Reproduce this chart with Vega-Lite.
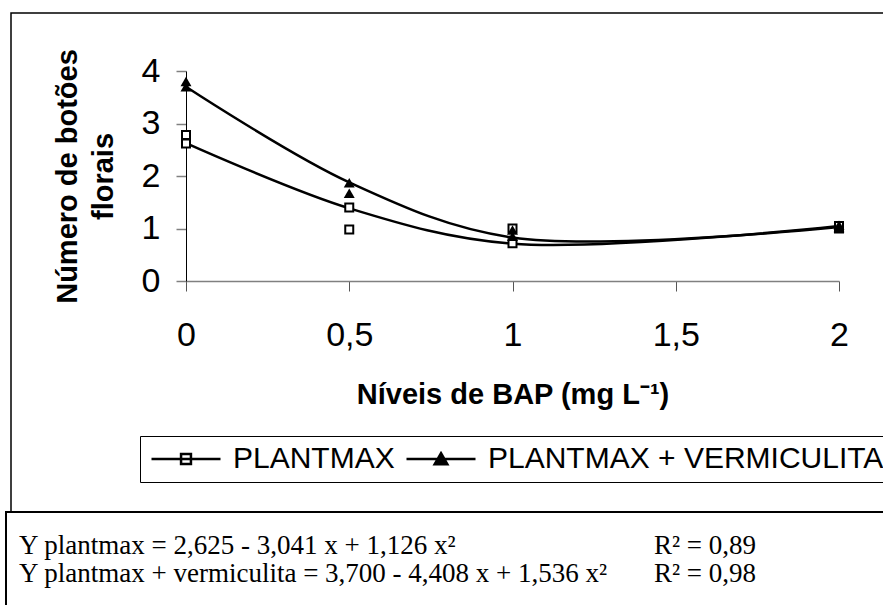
{
  "$schema": "https://vega.github.io/schema/vega-lite/v6.json",
  "padding": {"left": 5, "top": 12, "right": 0, "bottom": 0},
  "spacing": 0,
  "center": true,
  "bounds": "flush",
  "background": "white",
  "config": {
    "font": "Liberation Sans",
    "axis": {"labelFont": "Liberation Sans", "titleFont": "Liberation Sans", "grid": false},
    "legend": {"labelFont": "Liberation Sans"}
  },
  "datasets": {
    "fit": [
      {"series": "PLANTMAX", "x": 0, "y": 2.625},
      {"series": "PLANTMAX", "x": 0.5, "y": 1.385},
      {"series": "PLANTMAX", "x": 1, "y": 0.71},
      {"series": "PLANTMAX", "x": 2, "y": 1.047},
      {"series": "PLANTMAX + VERMICULITA", "x": 0, "y": 3.7},
      {"series": "PLANTMAX + VERMICULITA", "x": 0.5, "y": 1.88},
      {"series": "PLANTMAX + VERMICULITA", "x": 1, "y": 0.828},
      {"series": "PLANTMAX + VERMICULITA", "x": 2, "y": 1.028}
    ],
    "obs": [
      {"series": "PLANTMAX", "x": 0, "y": 2.78},
      {"series": "PLANTMAX", "x": 0, "y": 2.62},
      {"series": "PLANTMAX", "x": 0.5, "y": 1.4},
      {"series": "PLANTMAX", "x": 0.5, "y": 0.98},
      {"series": "PLANTMAX", "x": 1, "y": 1.0},
      {"series": "PLANTMAX", "x": 1, "y": 0.72},
      {"series": "PLANTMAX", "x": 2, "y": 1.0},
      {"series": "PLANTMAX", "x": 2, "y": 1.05},
      {"series": "PLANTMAX + VERMICULITA", "x": 0, "y": 3.8},
      {"series": "PLANTMAX + VERMICULITA", "x": 0, "y": 3.7},
      {"series": "PLANTMAX + VERMICULITA", "x": 0.5, "y": 1.87},
      {"series": "PLANTMAX + VERMICULITA", "x": 0.5, "y": 1.67},
      {"series": "PLANTMAX + VERMICULITA", "x": 1, "y": 0.85},
      {"series": "PLANTMAX + VERMICULITA", "x": 1, "y": 0.97},
      {"series": "PLANTMAX + VERMICULITA", "x": 2, "y": 1.02},
      {"series": "PLANTMAX + VERMICULITA", "x": 2, "y": 1.06}
    ],
    "eqs": [
      {"line": 1, "col": "eq", "label": "Y plantmax = 2,625 - 3,041 x + 1,126 x²"},
      {"line": 1, "col": "r2", "label": "R² = 0,89"},
      {"line": 2, "col": "eq", "label": "Y plantmax + vermiculita = 3,700 - 4,408 x + 1,536 x²"},
      {"line": 2, "col": "r2", "label": "R² = 0,98"}
    ]
  },
  "vconcat": [
    {
      "width": 880,
      "height": 499,
      "view": {"stroke": "black", "strokeWidth": 1.5},
      "encoding": {
        "x": {
          "field": "x", "type": "quantitative",
          "scale": {"domain": [0, 2], "range": [175, 828], "nice": false, "zero": false},
          "axis": {
            "values": [0, 0.5, 1, 1.5, 2],
            "labelExpr": "replace(toString(datum.value), '.', ',')",
            "offset": -231,
            "domainColor": "#808080", "domainWidth": 1.5,
            "tickColor": "#555555", "tickSize": 10, "tickWidth": 1,
            "labelFontSize": 34, "labelColor": "black", "labelPadding": 27,
            "labelFlush": false, "labelOverlap": false,
            "title": "Níveis de BAP (mg L⁻¹)",
            "titleFontSize": 29, "titleFontWeight": "bold", "titleColor": "black",
            "titleY": 122, "titleBaseline": "alphabetic"
          }
        },
        "y": {
          "field": "y", "type": "quantitative",
          "scale": {"domain": [0, 4], "range": [268, 58], "nice": false},
          "axis": {
            "values": [0, 1, 2, 3, 4],
            "offset": -175,
            "domainColor": "black", "domainWidth": 1,
            "tickColor": "#808080", "tickSize": 10, "tickWidth": 1.5,
            "labelFontSize": 34, "labelColor": "black", "labelPadding": 16,
            "title": ["Número de botões", "florais"],
            "titleFontSize": 29, "titleFontWeight": "bold", "titleColor": "black",
            "titleAngle": -90, "titleX": -110, "titleY": 163,
            "titleAlign": "center", "titleBaseline": "alphabetic", "titleLineHeight": 36
          }
        }
      },
      "layer": [
        {
          "data": {"name": "fit"},
          "transform": [{"filter": "datum.series === 'PLANTMAX'"}],
          "mark": {"type": "line", "interpolate": "catmull-rom", "color": "black", "strokeWidth": 2.5}
        },
        {
          "data": {"name": "obs"},
          "transform": [{"filter": "datum.series === 'PLANTMAX'"}],
          "mark": {"type": "point", "shape": "square", "size": 64, "filled": false, "fill": "white", "stroke": "black", "strokeWidth": 2, "opacity": 1}
        },
        {
          "data": {"name": "fit"},
          "transform": [{"filter": "datum.series !== 'PLANTMAX'"}],
          "mark": {"type": "line", "interpolate": "catmull-rom", "color": "black", "strokeWidth": 2.5}
        },
        {
          "data": {"name": "obs"},
          "transform": [{"filter": "datum.series !== 'PLANTMAX'"}],
          "mark": {"type": "point", "shape": "triangle-up", "size": 120, "filled": true, "color": "black", "opacity": 1}
        },
        {
          "data": {"name": "obs"},
          "mark": {"type": "point", "opacity": 0, "filled": true, "strokeWidth": 2.5},
          "encoding": {
            "shape": {
              "field": "series", "type": "nominal",
              "scale": {"domain": ["PLANTMAX", "PLANTMAX + VERMICULITA"], "range": ["M-1,0H5M1.57,-0.43H2.43V0.43H1.57Z", "M-1,0H5M2,-0.5L2.55,0.45H1.45Z"]},
              "legend": {
                "title": null, "orient": "none", "legendX": 134, "legendY": 423,
                "direction": "horizontal", "strokeColor": "black", "padding": 8,
                "symbolSize": 529, "symbolStrokeWidth": 2.5,
                "symbolOpacity": 1, "labelFontSize": 30, "labelColor": "black", "labelLimit": 0,
                "labelOffset": 55, "columnPadding": 6
              }
            },
            "fill": {
              "field": "series", "type": "nominal",
              "scale": {"domain": ["PLANTMAX", "PLANTMAX + VERMICULITA"], "range": ["white", "black"]},
              "legend": {
                "title": null, "orient": "none", "legendX": 134, "legendY": 423,
                "direction": "horizontal", "strokeColor": "black", "padding": 8,
                "symbolSize": 529, "symbolStrokeWidth": 2.5,
                "symbolOpacity": 1, "labelFontSize": 30, "labelColor": "black", "labelLimit": 0,
                "labelOffset": 55, "columnPadding": 6
              }
            },
            "stroke": {
              "field": "series", "type": "nominal",
              "scale": {"domain": ["PLANTMAX", "PLANTMAX + VERMICULITA"], "range": ["black", "black"]},
              "legend": {
                "title": null, "orient": "none", "legendX": 134, "legendY": 423,
                "direction": "horizontal", "strokeColor": "black", "padding": 8,
                "symbolSize": 529, "symbolStrokeWidth": 2.5,
                "symbolOpacity": 1, "labelFontSize": 30, "labelColor": "black", "labelLimit": 0,
                "labelOffset": 55, "columnPadding": 6
              }
            }
          }
        }
      ]
    },
    {
      "width": 890,
      "height": 100,
      "view": {"stroke": "black", "strokeWidth": 2},
      "data": {"name": "eqs"},
      "mark": {"type": "text", "align": "left", "baseline": "alphabetic", "font": "Liberation Serif", "fontSize": 27, "color": "black"},
      "encoding": {
        "x": {"field": "col", "type": "nominal", "scale": {"type": "point", "domain": ["eq", "r2"], "range": [13, 648], "padding": 0}, "axis": null},
        "y": {"field": "line", "type": "ordinal", "scale": {"type": "point", "domain": [1, 2], "range": [42, 70], "padding": 0}, "axis": null},
        "text": {"field": "label"}
      }
    }
  ]
}
